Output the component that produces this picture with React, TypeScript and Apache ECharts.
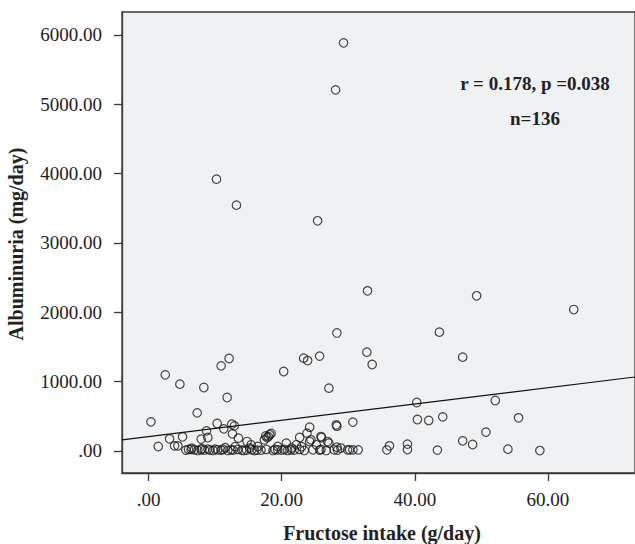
import React, { useEffect, useRef } from "react";
import * as echarts from "echarts";

// Fructose intake (g/day), Albuminuria (mg/day)
const fructose: number[] = [
  29.3, 28.1, 10.2, 13.2, 25.4, 32.9, 49.3, 63.9, 43.7, 28.3,
  47.2, 32.8, 33.6, 40.3, 52.1, 40.4, 42.1, 44.2, 55.6, 50.7,
  47.2, 48.7, 54.0, 58.8, 43.4, 38.9, 38.9, 36.2, 35.8, 30.2,
  30.7, 31.5, 30.7, 28.2, 28.3, 2.5, 4.7, 8.3, 10.9, 12.1,
  11.8, 7.3, 0.35, 1.45, 3.15, 5.1, 3.9, 4.4, 20.3, 23.3,
  23.9, 25.7, 27.1, 10.3, 11.3, 12.5, 12.9, 12.6, 8.7, 8.9,
  7.9, 18.2, 18.0, 18.4, 17.4, 13.5, 14.8, 22.7, 24.2, 23.8,
  26.0, 24.2, 27.1, 28.3, 29.9, 28.9,
  5.6, 6.4, 7.4, 7.9, 8.4, 8.9, 9.7, 10.4, 10.9, 11.2,
  11.9, 12.4, 12.7, 13.4, 14.3, 14.7, 15.5, 15.9, 16.9, 17.7,
  18.7, 19.4, 20.0, 20.4, 20.9, 21.4, 21.9, 22.7, 23.4, 24.7,
  25.7, 25.9, 26.7, 27.9, 28.4,
  25.9, 26.9, 20.7, 22.2, 19.4, 15.2, 13.0, 15.4, 16.4, 24.4,
  25.2, 6.5, 6.0, 6.9, 8.0, 9.2, 10.0, 11.5, 17.8, 17.6,
  21.5, 23.0, 19.0, 16.3, 14.0,
];
const albuminuria: number[] = [
  5885, 5207, 3919, 3544, 3318, 2308, 2236, 2038, 1712, 1700,
  1351, 1423, 1245, 697, 726, 452, 438, 490, 476, 270,
  144, 91, 24, 4, 10, 97, 19, 72, 14, 14,
  14, 14, 414, 375, 355, 1096, 962, 913, 1226, 1332,
  769, 548, 418, 62, 173, 202, 72, 72, 1144, 1337,
  1302, 1366, 904, 394, 317, 385, 360, 245, 288, 192,
  169, 231, 205, 250, 159, 183, 134, 192, 341, 255,
  192, 134, 111, 53, 14, 40,
  10, 20, 5, 15, 10, 25, 5, 15, 10, 20,
  5, 15, 10, 20, 5, 10, 15, 5, 10, 20,
  5, 15, 10, 20, 5, 15, 10, 20, 5, 15,
  10, 20, 5, 15, 10,
  206, 134, 111, 87, 62, 40, 60, 87, 62, 159,
  87, 39, 20, 15, 30, 10, 25, 45, 190, 215,
  40, 60, 20, 10, 10,
];

const xTicks: number[] = [0, 20, 40, 60];
const yTicks: number[] = [0, 1000, 2000, 3000, 4000, 5000, 6000];

// fit line: y = intercept + slope * x
const fitIntercept = 206;
const fitSlope = 11.75;

const xMin = -4;
const xMax = 73.1;
const yMin = -320;
const yMax = 6330;

const serif = "'Liberation Serif', 'DejaVu Serif', serif";
const fmt = (v: number) => (v === 0 ? ".00" : v.toFixed(2));

export default function App() {
  const ref = useRef<HTMLDivElement>(null);
  useEffect(() => {
    if (!ref.current) return;
    const chart = echarts.init(ref.current, undefined, { renderer: "svg" });
    const points = fructose.map((x, i) => [x, albuminuria[i]]);
    const fit = [
      [xMin, fitIntercept + fitSlope * xMin],
      [xMax, fitIntercept + fitSlope * xMax],
    ];
    chart.setOption({
      animation: false,
      backgroundColor: "#ffffff",
      grid: {
        left: 122,
        top: 12,
        right: -1,
        bottom: 71,
        show: true,
        backgroundColor: "#f0f1f3",
        borderColor: "#3a3a3a",
        borderWidth: 1.3,
      },
      xAxis: {
        type: "value",
        min: xMin,
        max: xMax,
        splitLine: { show: false },
        axisLine: { show: true, onZero: false, lineStyle: { color: "#3a3a3a", width: 1.3 } },
        axisTick: { show: true, length: 8, customValues: xTicks, lineStyle: { color: "#3a3a3a", width: 1.3 } },
        axisLabel: {
          customValues: xTicks,
          formatter: fmt,
          margin: 17,
          fontFamily: serif,
          fontSize: 19,
          color: "#222",
        },
      },
      yAxis: {
        type: "value",
        min: yMin,
        max: yMax,
        splitLine: { show: false },
        axisLine: { show: true, onZero: false, lineStyle: { color: "#3a3a3a", width: 1.3 } },
        axisTick: { show: true, length: 8, customValues: yTicks, lineStyle: { color: "#3a3a3a", width: 1.3 } },
        axisLabel: {
          customValues: yTicks,
          formatter: fmt,
          margin: 20,
          fontFamily: serif,
          fontSize: 19,
          color: "#222",
        },
      },
      series: [
        {
          type: "line",
          data: fit,
          symbol: "none",
          lineStyle: { color: "#111", width: 1.2 },
          z: 1,
        },
        {
          type: "scatter",
          data: points,
          symbol: "circle",
          symbolSize: 8.5,
          itemStyle: { color: "rgba(0,0,0,0)", borderColor: "#1a1a1a", borderWidth: 1.2 },
          z: 2,
        },
      ],
      graphic: [
        {
          type: "text",
          x: 535,
          y: 83,
          style: {
            text: "r = 0.178, p =0.038",
            font: `bold 19px ${serif}`,
            fill: "#222",
            textAlign: "center",
            textVerticalAlign: "middle",
          },
        },
        {
          type: "text",
          x: 535,
          y: 118,
          style: {
            text: "n=136",
            font: `bold 19px ${serif}`,
            fill: "#222",
            textAlign: "center",
            textVerticalAlign: "middle",
          },
        },
        {
          type: "text",
          x: 382,
          y: 533,
          style: {
            text: "Fructose intake (g/day)",
            font: `bold 20px ${serif}`,
            fill: "#222",
            textAlign: "center",
            textVerticalAlign: "middle",
          },
        },
        {
          type: "text",
          x: 16,
          y: 244,
          rotation: Math.PI / 2,
          style: {
            text: "Albuminuria (mg/day)",
            font: `bold 20px ${serif}`,
            fill: "#222",
            textAlign: "center",
            textVerticalAlign: "middle",
          },
        },
      ],
    });
    return () => chart.dispose();
  }, []);
  return (
    <div
      ref={ref}
      style={{ position: "absolute", left: 0, top: 0, width: 635, height: 544 }}
    />
  );
}
